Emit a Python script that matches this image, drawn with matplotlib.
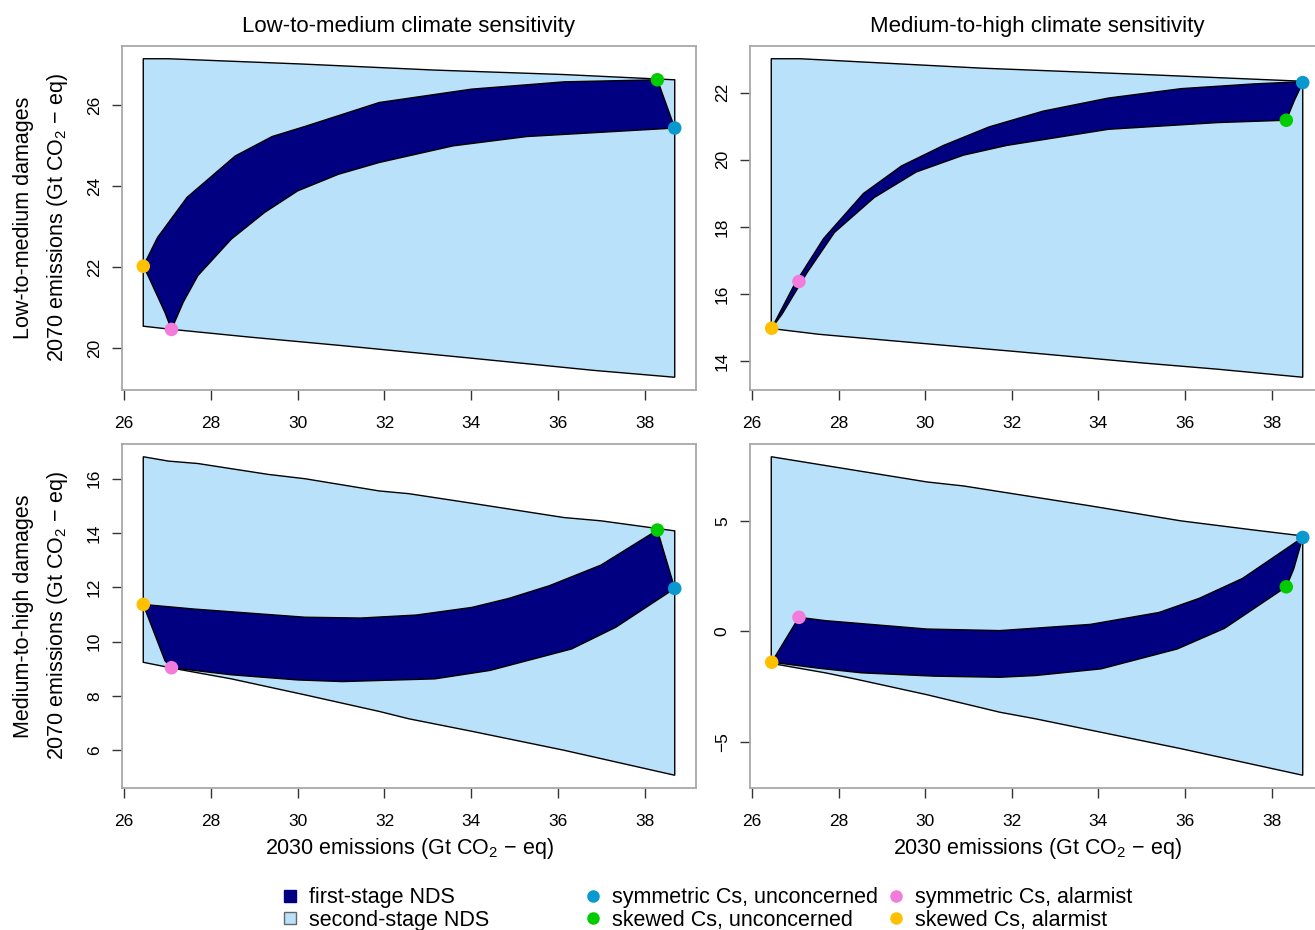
import matplotlib
matplotlib.use("Agg")
import matplotlib.pyplot as plt
from matplotlib.lines import Line2D

plt.rcParams['font.family'] = ['Liberation Sans', 'DejaVu Sans']
plt.rcParams['mathtext.fontset'] = 'custom'
plt.rcParams['mathtext.rm'] = 'Liberation Sans'
plt.rcParams['mathtext.it'] = 'Liberation Sans:italic'

# ---- data (x = 2030 emissions, y = 2070 emissions) ----
# point order: symmetric/unconcerned, skewed/unconcerned, symmetric/alarmist, skewed/alarmist

# low-to-medium damages, low-to-medium sensitivity
p1_outer_x = [26.44, 27.02, 30.09, 33.16, 36.14, 38.69, 38.69, 36.82, 34.01, 31.03, 28.90, 27.02, 26.44]
p1_outer_y = [27.14, 27.14, 27.01, 26.86, 26.75, 26.62, 19.28, 19.45, 19.75, 20.06, 20.27, 20.47, 20.54]
p1_inner_x = [26.44, 26.77, 27.45, 28.56, 29.41, 30.17, 31.88, 34.01, 36.14, 38.29, 38.69,
              35.28, 33.58, 31.88, 30.94, 30.00, 29.24, 28.47, 27.70, 27.36, 27.09, 26.94, 26.55]
p1_inner_y = [22.02, 22.73, 23.72, 24.74, 25.22, 25.47, 26.06, 26.39, 26.57, 26.62, 25.43,
              25.22, 24.99, 24.58, 24.29, 23.88, 23.35, 22.69, 21.79, 21.13, 20.46, 20.88, 21.79]
p1_pts_x = [38.69, 38.29, 27.09, 26.44]
p1_pts_y = [25.43, 26.62, 20.46, 22.02]
p1_yticks = [20, 22, 24, 26]

# low-to-medium damages, medium-to-high sensitivity
p2_outer_x = [26.44, 27.11, 31.30, 35.07, 38.72, 38.72, 36.75, 35.07, 32.14, 29.20, 27.53, 26.44]
p2_outer_y = [23.01, 23.01, 22.73, 22.54, 22.34, 13.53, 13.77, 13.95, 14.29, 14.62, 14.81, 14.98]
p2_inner_x = [26.45, 26.98, 27.65, 28.57, 29.45, 30.42, 31.47, 32.72, 34.23, 35.91, 37.58, 38.59, 38.72,
              38.52, 38.34, 36.75, 34.23, 31.88, 30.88, 29.79, 28.82, 27.90, 27.27, 26.69]
p2_inner_y = [14.99, 16.30, 17.66, 19.00, 19.82, 20.43, 20.98, 21.45, 21.84, 22.12, 22.26, 22.32, 22.30,
              21.75, 21.18, 21.11, 20.91, 20.43, 20.14, 19.64, 18.88, 17.84, 16.65, 15.41]
p2_pts_x = [38.72, 38.34, 27.08, 26.45]
p2_pts_y = [22.30, 21.18, 16.38, 14.99]
p2_yticks = [14, 16, 18, 20, 22]

# medium-to-high damages, low-to-medium sensitivity
p3_outer_x = [26.44, 27.02, 27.70, 29.32, 30.17, 31.88, 32.56, 33.84, 36.14, 36.99, 38.69,
              38.69, 36.14, 34.01, 32.56, 31.88, 30.17, 28.47, 27.19, 26.44]
p3_outer_y = [16.81, 16.65, 16.56, 16.16, 16.00, 15.55, 15.45, 15.14, 14.57, 14.45, 14.08,
              5.08, 6.00, 6.70, 7.16, 7.43, 8.04, 8.63, 9.00, 9.24]
p3_inner_x = [26.44, 27.62, 30.17, 31.45, 32.73, 34.01, 34.86, 35.80, 36.99, 38.29, 38.69,
              37.33, 36.31, 34.43, 33.16, 31.03, 30.00, 28.47, 27.19, 27.09, 26.94, 26.51]
p3_inner_y = [11.37, 11.20, 10.90, 10.87, 10.98, 11.26, 11.59, 12.06, 12.82, 14.11, 11.96,
              10.53, 9.73, 8.94, 8.63, 8.53, 8.59, 8.78, 9.02, 9.04, 9.30, 11.08]
p3_pts_x = [38.69, 38.29, 27.09, 26.44]
p3_pts_y = [11.96, 14.11, 9.04, 11.37]
p3_yticks = [6, 8, 10, 12, 14, 16]

# medium-to-high damages, medium-to-high sensitivity
p4_outer_x = [26.44, 30.04, 30.88, 33.81, 35.91, 37.58, 38.72, 38.72, 35.91, 32.55, 31.72, 30.04,
              28.36, 27.69, 26.52, 26.44]
p4_outer_y = [7.90, 6.76, 6.58, 5.68, 5.00, 4.59, 4.32, -6.50, -5.30, -3.95, -3.65, -2.86,
              -2.14, -1.87, -1.47, -1.42]
p4_inner_x = [26.45, 27.08, 27.69, 30.04, 31.72, 33.81, 35.40, 36.33, 37.33, 38.72, 38.51, 38.34,
              36.91, 35.82, 34.06, 32.55, 31.72, 30.21, 28.53, 27.53]
p4_inner_y = [-1.39, 0.64, 0.49, 0.11, 0.04, 0.32, 0.86, 1.50, 2.40, 4.25, 2.82, 2.02,
              0.14, -0.79, -1.69, -1.99, -2.07, -2.02, -1.87, -1.66]
p4_pts_x = [38.72, 38.34, 27.08, 26.45]
p4_pts_y = [4.25, 2.02, 0.64, -1.39]
p4_yticks = [-5, 0, 5]

xticks = [26, 28, 30, 32, 34, 36, 38]
col_titles = ['Low-to-medium climate sensitivity', 'Medium-to-high climate sensitivity']
row_titles = ['Low-to-medium damages', 'Medium-to-high damages']
stage_labels = ['first-stage NDS', 'second-stage NDS']
pt_labels = ['symmetric Cs, unconcerned', 'skewed Cs, unconcerned',
             'symmetric Cs, alarmist', 'skewed Cs, alarmist']
pt_colors = ['#0A99CF', '#00CC00', '#F27BDB', '#FFC000']
dark_col = '#000080'
light_col = '#B9E1FA'

unit_lab = r'emissions (Gt CO$_2$ $-$ eq)'

W, H = 1315, 930
fig = plt.figure(figsize=(W / 100, H / 100), dpi=100)


def px_rect(left, top, width, height):
    return [left / W, 1 - (top + height) / H, width / W, height / H]


panels = [
    (p1_outer_x, p1_outer_y, p1_inner_x, p1_inner_y, p1_pts_x, p1_pts_y, p1_yticks),
    (p2_outer_x, p2_outer_y, p2_inner_x, p2_inner_y, p2_pts_x, p2_pts_y, p2_yticks),
    (p3_outer_x, p3_outer_y, p3_inner_x, p3_inner_y, p3_pts_x, p3_pts_y, p3_yticks),
    (p4_outer_x, p4_outer_y, p4_inner_x, p4_inner_y, p4_pts_x, p4_pts_y, p4_yticks),
]
lefts = [122, 750]
tops = [46, 444]
fs = 15.5

for i, (ox, oy, ix, iy, px, py, yt) in enumerate(panels):
    row, col = divmod(i, 2)
    ax = fig.add_axes(px_rect(lefts[col], tops[row], 574, 344))
    ax.fill(ox, oy, facecolor=light_col, edgecolor='black', linewidth=1.0, zorder=1)
    ax.fill(ix, iy, facecolor=dark_col, edgecolor='black', linewidth=1.0, zorder=2)
    ax.scatter(px, py, s=95, c=pt_colors, edgecolors='none', zorder=3, clip_on=False)
    ax.margins(0.04)
    ax.set_xticks(xticks)
    ax.set_yticks(yt)
    for sp in ax.spines.values():
        sp.set_color('#A8A8A8')
        sp.set_linewidth(1.3)
    ax.tick_params(direction='out', length=7.5, width=1.0, color='#333333', labelsize=12.5)
    ax.tick_params(axis='x', pad=11)
    ax.tick_params(axis='y', pad=7, labelrotation=90)
    for lab in ax.get_yticklabels():
        lab.set_va('center')
    if row == 0:
        ax.set_title(col_titles[col], fontsize=16, pad=10)
    if row == 1:
        ax.set_xlabel('2030 ' + unit_lab, fontsize=fs, labelpad=5)
    if col == 0:
        yc = 1 - (tops[row] + 172) / H
        fig.text(23 / W, yc, row_titles[row], rotation=90, ha='center', va='center', fontsize=fs)
        fig.text(57 / W, yc, '2070 ' + unit_lab, rotation=90, ha='center', va='center', fontsize=fs)

# legend: three columns of two entries
stage_handles = [
    Line2D([], [], marker='s', linestyle='none', markersize=9,
           markerfacecolor=dark_col, markeredgecolor=dark_col),
    Line2D([], [], marker='s', linestyle='none', markersize=9,
           markerfacecolor=light_col, markeredgecolor='#666666'),
]
pt_handles = [Line2D([], [], marker='o', linestyle='none', markersize=8,
                     markerfacecolor=c, markeredgecolor=c) for c in pt_colors]

groups = [
    (stage_handles, stage_labels, 279),
    (pt_handles[:2], pt_labels[:2], 582),
    (pt_handles[2:], pt_labels[2:], 885),
]
for hs, ls, x0 in groups:
    fig.legend(handles=hs, labels=ls, loc='center left', bbox_to_anchor=(x0 / W, 1 - 909 / H),
               frameon=False, fontsize=fs, handlelength=1.0, handletextpad=0.38,
               borderpad=0, borderaxespad=0, labelspacing=0.05)

fig.savefig('out.png', dpi=100)
